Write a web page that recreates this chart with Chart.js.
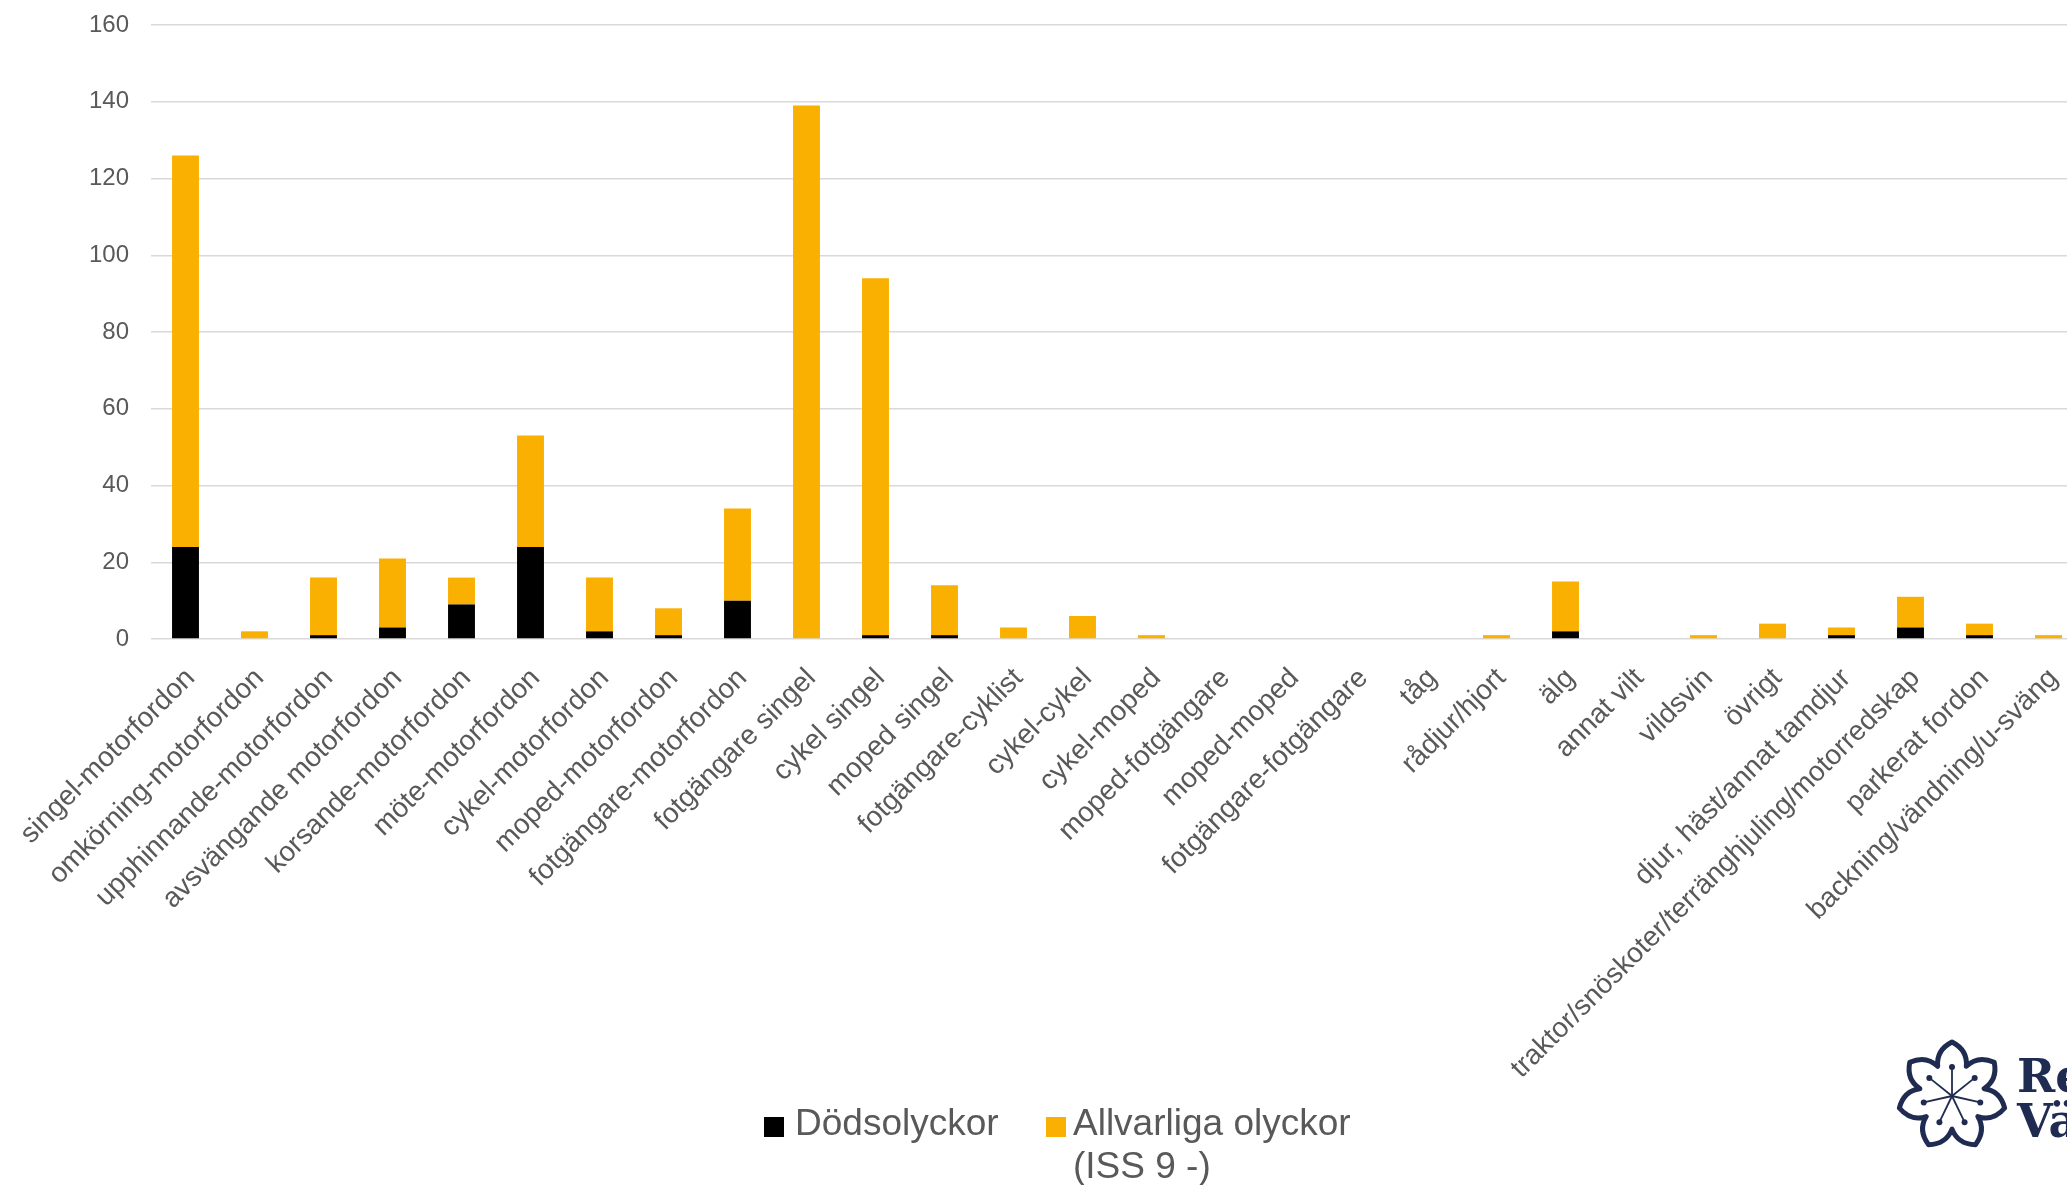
<!DOCTYPE html>
<html>
<head>
<meta charset="utf-8">
<script src="https://cdn.jsdelivr.net/npm/chart.js@4"></script>
<style>
  html, body { margin:0; padding:0; background:#fff; width:2067px; height:1185px; overflow:hidden; }
  #wrap { position:absolute; left:0; top:0; width:2090px; height:1185px; }
  .legend { position:absolute; font-family:'Liberation Sans', Arial, sans-serif; font-size:37px; line-height:43px; color:#595959; }
  .sq { position:absolute; width:20px; height:20px; }
  #logo { position:absolute; left:0; top:0; width:2067px; height:1185px; pointer-events:none; }
</style>
</head>
<body>
<div id="wrap"><canvas id="chart"></canvas></div>
<div id="legend"></div>
<svg id="logo" viewBox="0 0 2067 1185"></svg>
<script>
// Olyckstyper, antal olyckor
const categories = [
  'singel-motorfordon', 'omkörning-motorfordon', 'upphinnande-motorfordon', 'avsvängande motorfordon',
  'korsande-motorfordon', 'möte-motorfordon', 'cykel-motorfordon', 'moped-motorfordon',
  'fotgängare-motorfordon', 'fotgängare singel', 'cykel singel', 'moped singel',
  'fotgängare-cyklist', 'cykel-cykel', 'cykel-moped', 'moped-fotgängare', 'moped-moped',
  'fotgängare-fotgängare', 'tåg', 'rådjur/hjort', 'älg', 'annat vilt', 'vildsvin', 'övrigt',
  'djur, häst/annat tamdjur', 'traktor/snöskoter/terränghjuling/motorredskap', 'parkerat fordon',
  'backning/vändning/u-sväng'
];
const deaths  = [24, 0, 1, 3, 9, 24, 2, 1, 10, 0, 1, 1, 0, 0, 0, 0, 0, 0, 0, 0, 2, 0, 0, 0, 1, 3, 1, 0];
const serious = [102, 2, 15, 18, 7, 29, 14, 7, 24, 139, 93, 13, 3, 6, 1, 0, 0, 0, 0, 1, 13, 0, 1, 4, 2, 8, 3, 1];
const seriesLabels = ['Dödsolyckor', 'Allvarliga olyckor (ISS 9 -)'];
const seriesColors = ['#000000', '#F9B000'];
const yMax = 160, yStep = 20;

const TXT = '#595959';
const FONT = "'Liberation Sans', Arial, sans-serif";

const chart = new Chart(document.getElementById('chart'), {
  type: 'bar',
  data: {
    labels: categories,
    datasets: [
      { label: seriesLabels[0], data: deaths, backgroundColor: seriesColors[0], barPercentage: 0.39, categoryPercentage: 1 },
      { label: seriesLabels[1], data: serious, backgroundColor: seriesColors[1], barPercentage: 0.39, categoryPercentage: 1 },
    ]
  },
  options: {
    responsive: true, maintainAspectRatio: false, animation: false,
    layout: { padding: { top: 25, right: 7, left: 0, bottom: 0 } },
    plugins: { legend: { display: false }, tooltip: { enabled: false } },
    scales: {
      x: {
        stacked: true,
        grid: { display: false }, border: { display: false },
        ticks: { autoSkip: false, minRotation: 45, maxRotation: 45, padding: 15, labelOffset: 5,
                 color: TXT, font: { family: FONT, size: 28 } },
        afterFit: s => { s.height = 1185 - 639; }
      },
      y: {
        stacked: true, min: 0, max: yMax,
        ticks: { stepSize: yStep, padding: 22, color: TXT, font: { family: FONT, size: 24 } },
        grid: { color: '#d9d9d9', lineWidth: 1.5, drawTicks: false },
        border: { display: false },
        afterFit: s => { s.width = 151; s.paddingTop = 0; s.paddingBottom = 0; }
      }
    }
  }
});

// legend (HTML)
const legendPos = [ { sq: 764, txt: 795, w: 260 }, { sq: 1046, txt: 1073, w: 300 } ];
document.getElementById('legend').innerHTML = seriesLabels.map((l, i) =>
  `<div class="sq" style="left:${legendPos[i].sq}px;top:1117px;background:${seriesColors[i]}"></div>` +
  `<div class="legend" style="left:${legendPos[i].txt}px;top:1101px;width:${legendPos[i].w}px">${l}</div>`
).join('');

// logo
function logo(){
  const cx = 1952, cy = 1096, R = 54, rv = 33;
  const pt = (a, r) => [cx + r * Math.cos(a), cy + r * Math.sin(a)];
  const n = 7, step = 2 * Math.PI / n, deg = Math.PI / 180;
  let d = '';
  for (let i = 0; i < n; i++){
    const a = -Math.PI / 2 + i * step;
    const v0 = pt(a - step / 2, rv), c1 = pt(a - 19 * deg, R * 0.9), tip = pt(a, R), c2 = pt(a + 19 * deg, R * 0.9), v1 = pt(a + step / 2, rv);
    if (i === 0) d += `M${v0[0]},${v0[1]} `;
    d += `Q${c1[0]},${c1[1]} ${tip[0]},${tip[1]} Q${c2[0]},${c2[1]} ${v1[0]},${v1[1]} `;
  }
  let stam = '';
  for (let i = 0; i < n; i++){
    const a = -Math.PI / 2 + i * step;
    const e = pt(a, 29);
    stam += `<line x1="${cx}" y1="${cy}" x2="${e[0]}" y2="${e[1]}" stroke="#1f2b50" stroke-width="1.8"/>` +
            `<circle cx="${e[0]}" cy="${e[1]}" r="3" fill="#1f2b50"/>`;
  }
  document.getElementById('logo').innerHTML =
    `<path d="${d}Z" fill="#fff" stroke="#1f2b50" stroke-width="5" stroke-linejoin="round"/>` + stam +
    `<text x="2017" y="1092" font-family="DejaVu Serif" font-weight="bold" font-size="46" fill="#1f2b50">Region</text>` +
    `<text x="2017" y="1137" font-family="DejaVu Serif" font-weight="bold" font-size="46" fill="#1f2b50">Västerbotten</text>`;
}
logo();
</script>
</body>
</html>
